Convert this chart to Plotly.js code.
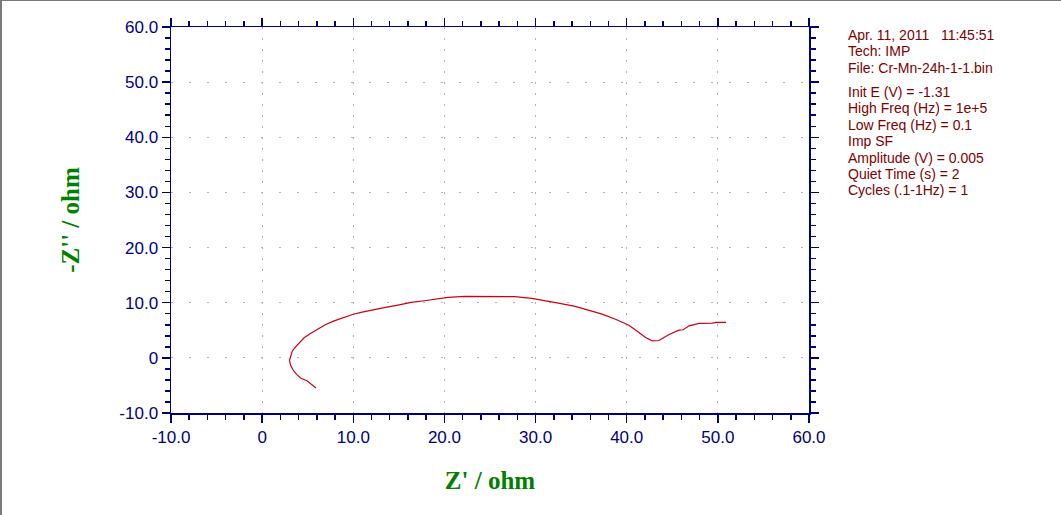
<!DOCTYPE html>
<html>
<head>
<meta charset="utf-8">
<script src="https://cdn.plot.ly/plotly-3.0.1.min.js"></script>
<style>
html,body{margin:0;padding:0;background:#fff;}
#chart{width:1059px;height:514px;border-top:1px solid #7a7a7a;border-left:2px solid #7a7a7a;}
</style>
</head>
<body>
<div id="chart"></div>
<script>
// Nyquist data: Z' (ohm) and -Z'' (ohm)
const zReal = [5.9, 5.5, 4.96, 4.22, 3.78, 3.42, 3.12, 3.0, 3.12, 3.3, 3.67, 4.22, 4.6, 5.3, 6.06, 6.98, 7.9, 9.0, 9.92, 10.84, 11.94, 13.4, 14.9, 16.35, 17.8, 19.6, 20.4, 22.2, 25.9, 27.7, 29.6, 31.05, 32.5, 34.35, 35.8, 37.3, 38.77, 40.24, 41.16, 42.07, 42.8, 43.55, 43.9, 44.65, 45.75, 46.2, 46.85, 47.95, 49.4, 49.8, 50.9];
const zImag = [-5.45, -4.85, -4.2, -3.64, -3.0, -2.25, -1.35, -0.44, 0.47, 1.2, 2.0, 2.9, 3.64, 4.4, 5.2, 6.05, 6.7, 7.4, 7.87, 8.24, 8.65, 9.1, 9.56, 10.05, 10.36, 10.8, 10.96, 11.15, 11.15, 11.09, 10.78, 10.4, 9.93, 9.33, 8.65, 7.93, 7.0, 5.93, 4.84, 3.7, 3.09, 3.15, 3.5, 4.24, 5.02, 5.1, 5.8, 6.24, 6.29, 6.42, 6.42];

const xTickVals = [-10, 0, 10, 20, 30, 40, 50, 60];
const xTickText = ["-10.0", "0", "10.0", "20.0", "30.0", "40.0", "50.0", "60.0"];
const yTickVals = [-10, 0, 10, 20, 30, 40, 50, 60];
const yTickText = ["-10.0", "0", "10.0", "20.0", "30.0", "40.0", "50.0", "60.0"];

const infoLines1 = ["Apr. 11, 2011   11:45:51", "Tech: IMP", "File: Cr-Mn-24h-1-1.bin"];
const infoLines2 = ["Init E (V) = -1.31", "High Freq (Hz) = 1e+5", "Low Freq (Hz) = 0.1", "Imp SF", "Amplitude (V) = 0.005", "Quiet Time (s) = 2", "Cycles (.1-1Hz) = 1"];

const W = 1059, H = 514;
const M = {l: 169, r: 252, t: 26, b: 102};
const PW = W - M.l - M.r, PH = H - M.t - M.b;
const px = v => (v - M.l) / PW;
const py = v => 1 - (v - M.t) / PH;

const annotations = [];
const addLines = (lines, top) => lines.forEach((s, i) => annotations.push({
  xref: 'paper', yref: 'paper', x: px(846 - 2), y: py(top + i * 16.4 - 1),
  xanchor: 'left', yanchor: 'middle', showarrow: false, text: s,
  font: {family: 'Liberation Sans, Arial, sans-serif', size: 14, color: '#800000'}
}));
addLines(infoLines1, 35);
addLines(infoLines2, 92);

const axisCommon = {
  showline: true, linecolor: '#000080', linewidth: 1.5, mirror: 'allticks',
  ticks: 'outside', ticklen: 8, tickwidth: 1.5, tickcolor: '#000080',
  tickmode: 'array', zeroline: false,
  showgrid: true, gridcolor: '#b4b4b4', gridwidth: 1,
  minor: {dtick: 2, ticks: 'outside', ticklen: 5, tickwidth: 1.5, tickcolor: '#000080', showgrid: false},
  tickfont: {family: 'Liberation Sans, Arial, sans-serif', size: 17, color: '#000080'},
  automargin: true
};

const layout = {
  width: W, height: H, margin: M,
  paper_bgcolor: '#ffffff', plot_bgcolor: '#ffffff', showlegend: false,
  xaxis: Object.assign({}, axisCommon, {
    range: [-10, 60], tickvals: xTickVals, ticktext: xTickText, griddash: '2px,9px',
    title: {text: "Z' / ohm", standoff: 25, font: {family: 'Liberation Serif, Times New Roman, serif', size: 25, color: '#008000', weight: 'bold'}}
  }),
  yaxis: Object.assign({}, axisCommon, {
    range: [-10, 60], tickvals: yTickVals, ticktext: yTickText, griddash: '2px,16px',
    title: {text: "-Z'' / ohm", standoff: 32, font: {family: 'Liberation Serif, Times New Roman, serif', size: 25, color: '#008000', weight: 'bold'}}
  }),
  annotations: annotations
};

const trace = {
  x: zReal, y: zImag, type: 'scatter', mode: 'lines',
  line: {color: '#d00010', width: 1.2}, hoverinfo: 'skip'
};

Plotly.newPlot('chart', [trace], layout, {staticPlot: true, displayModeBar: false});
</script>
</body>
</html>
